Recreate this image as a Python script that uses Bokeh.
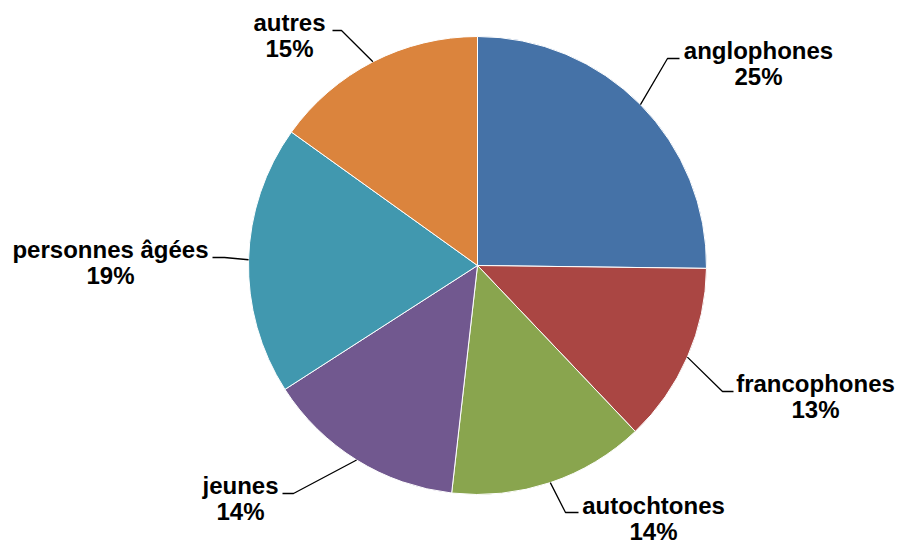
import math
from bokeh.plotting import figure
from bokeh.models import Range1d, ColumnDataSource
from bokeh.core.properties import value
from bokeh.embed import file_html
from bokeh.resources import INLINE

# ---- data ----
categories = ["anglophones", "francophones", "autochtones", "jeunes", "personnes âgées", "autres"]
shares = [25.2, 12.7, 13.9, 14.1, 19.0, 15.1]
colors = ["#4572A7", "#AA4643", "#89A54E", "#71588F", "#4198AF", "#DB843D"]

# ---- layout (picture pixel coordinates) ----
W, H = 898, 544
def X(ix):
    return ix
def Y(iy):
    return H - iy

CX, CY, R = 477, 265, 229
# label centre x, first baseline, elbow point, end of horizontal stub
label_layout = {
    "anglophones":     (758, 58, (667, 58), 679),
    "francophones":    (815, 391, (722, 391), 733),
    "autochtones":     (653, 513, (565, 512), 578),
    "jeunes":          (240, 493, (293, 493), 282),
    "personnes âgées": (110, 257, (224, 257), 212),
    "autres":          (289, 30, (341, 30), 332),
}
LINE_GAP = 26.5
TEXT_SHIFT = 8.5

p = figure(width=W, height=H, output_backend="svg", toolbar_location=None,
           x_range=Range1d(0, W), y_range=Range1d(0, H), min_border=0)
p.axis.visible = False
p.grid.visible = False
p.outline_line_color = None
p.background_fill_color = "white"
p.border_fill_color = "white"

total = sum(shares)
starts, ends, mids = [], [], []
acc = 0.0
for v in shares:
    frac0 = acc / total
    acc += v
    frac1 = acc / total
    starts.append(math.pi / 2 - frac0 * 2 * math.pi)
    ends.append(math.pi / 2 - frac1 * 2 * math.pi)
    mids.append((frac0 + frac1) / 2)

src = ColumnDataSource(dict(start=starts, end=ends, color=colors))
p.wedge(x=X(CX), y=Y(CY), radius=R, start_angle="start", end_angle="end",
        direction="clock", fill_color="color", line_color="white", line_width=1,
        source=src)

name_x, name_y, pct_x, pct_y, pct_txt = [], [], [], [], []
for cat, v, m in zip(categories, shares, mids):
    th = m * 2 * math.pi
    sx = CX + R * math.sin(th)
    sy = CY - R * math.cos(th)
    lx, b1, (ex, ey), endx = label_layout[cat]
    p.line([X(sx), X(ex), X(endx)], [Y(sy), Y(ey), Y(ey)], line_color="black", line_width=1.3)
    name_x.append(X(lx)); name_y.append(Y(b1 - TEXT_SHIFT))
    pct_x.append(X(lx)); pct_y.append(Y(b1 - TEXT_SHIFT + LINE_GAP))
    pct_txt.append(f"{round(v)}%")

common = dict(text_font=value("Liberation Sans"), text_font_style="bold",
              text_font_size="24px", text_align="center", text_baseline="alphabetic",
              text_color="black")
p.text(x=name_x, y=name_y, text=categories, **common)
p.text(x=pct_x, y=pct_y, text=pct_txt, **common)

open("out.html", "w").write(file_html(p, INLINE))
